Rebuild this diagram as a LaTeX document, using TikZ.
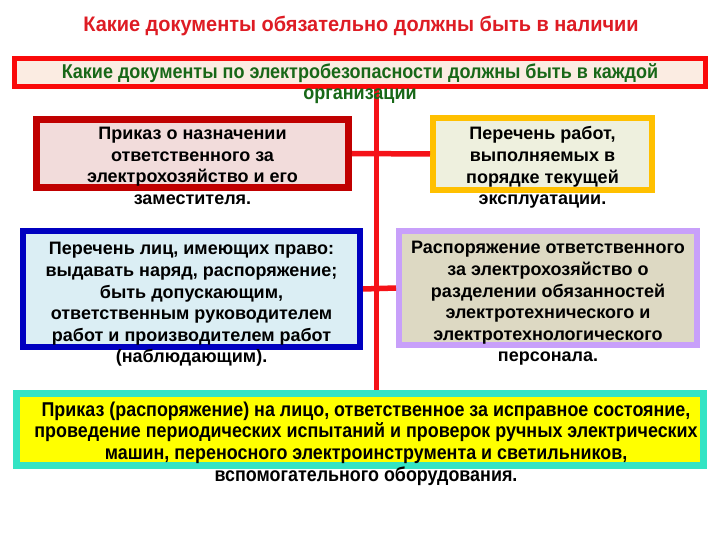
\documentclass[tikz,border=0pt]{standalone}
\usepackage{fontspec}
\setmainfont{Liberation Sans}
\newfontfamily\titlefont[FakeStretch=0.95]{Liberation Sans}
\newfontfamily\greenfont[FakeStretch=0.90]{Liberation Sans}
\newfontfamily\narrowfont[FakeStretch=0.895]{Liberation Sans}
\usetikzlibrary{calc}
\definecolor{titlered}{RGB}{222,28,36}
\definecolor{linkred}{RGB}{245,18,24}
\definecolor{topborder}{RGB}{250,10,10}
\definecolor{topfill}{RGB}{251,236,226}
\definecolor{topgreen}{RGB}{24,104,24}
\definecolor{aborder}{RGB}{192,0,0}
\definecolor{afill}{RGB}{242,220,219}
\definecolor{bborder}{RGB}{255,192,0}
\definecolor{bfill}{RGB}{238,240,222}
\definecolor{cborder}{RGB}{0,0,192}
\definecolor{cfill}{RGB}{219,238,244}
\definecolor{dborder}{RGB}{200,160,250}
\definecolor{dfill}{RGB}{221,217,195}
\definecolor{eborder}{RGB}{52,228,196}
\definecolor{efill}{RGB}{255,255,0}
\begin{document}
\begin{tikzpicture}[x=1pt,y=-1pt,
  box/.style={draw, rectangle, inner sep=0pt},
  link/.style={draw=linkred, line width=5.5pt},
  txt/.style={align=center, inner sep=0pt, text=black,
    font=\bfseries\fontsize{18}{21.6}\selectfont},
  ntxt/.style={align=center, inner sep=0pt,
    font=\narrowfont\bfseries\fontsize{20}{21.6}\selectfont}]
\useasboundingbox (0,0) rectangle (720,540);
\fill[white] (0,0) rectangle (720,540);

% boxes
\node[box, draw=topborder, fill=topfill, line width=5pt,
  minimum width=691pt, minimum height=28pt] (top) at (360,72.5) {};
\node[box, draw=aborder, fill=afill, line width=7pt,
  minimum width=312pt, minimum height=68pt] (b1) at (192.5,153.5) {};
\node[box, draw=bborder, fill=bfill, line width=6pt,
  minimum width=219pt, minimum height=72pt] (b2) at (542.5,154) {};
\node[box, draw=cborder, fill=cfill, line width=6pt,
  minimum width=337pt, minimum height=116pt] (b3) at (191.5,289) {};
\node[box, draw=dborder, fill=dfill, line width=6pt,
  minimum width=298pt, minimum height=114pt] (b4) at (548,288) {};
\node[box, draw=eborder, fill=efill, line width=7pt,
  minimum width=687pt, minimum height=72pt] (bot) at (360,429.5) {};

% connectors
\coordinate (vx) at (376.5,0);
\draw[link] (top.south -| vx) -- (bot.north -| vx);
\draw[link] (b1.east) -- (b2.west);
\draw[link] (b3.east) -- (b4.west);

% texts
\node[align=center, inner sep=0pt, text=titlered,
  font=\titlefont\bfseries\fontsize{21}{24}\selectfont] (title) at (361,26)
  {Какие документы обязательно должны быть в наличии};
\node[align=center, inner sep=0pt, text=topgreen,
  font=\greenfont\bfseries\fontsize{20}{21.6}\selectfont] (t0) at (360,83.5)
  {Какие документы по электробезопасности должны быть в каждой\\организации};
\node[txt] (t1) at (192.5,166)
  {Приказ о назначении\\ответственного за\\электрохозяйство и его\\заместителя.};
\node[txt] (t2) at (542.5,167.5)
  {Перечень работ,\\выполняемых в\\порядке текущей\\эксплуатации.};
\node[txt] (t3) at (191.5,304.5)
  {Перечень лиц, имеющих право:\\выдавать наряд, распоряжение;\\быть допускающим,\\ответственным руководителем\\работ и производителем работ\\(наблюдающим).};
\node[txt] (t4) at (548,303.5)
  {Распоряжение ответственного\\за электрохозяйство о\\разделении обязанностей\\электротехнического и\\электротехнологического\\персонала.};
\node[ntxt, text=black] (t5) at (366,443.5)
  {Приказ (распоряжение) на лицо, ответственное за исправное состояние,\\проведение периодических испытаний и проверок ручных электрических\\машин, переносного электроинструмента и светильников,\\вспомогательного оборудования.};
\end{tikzpicture}
\end{document}
